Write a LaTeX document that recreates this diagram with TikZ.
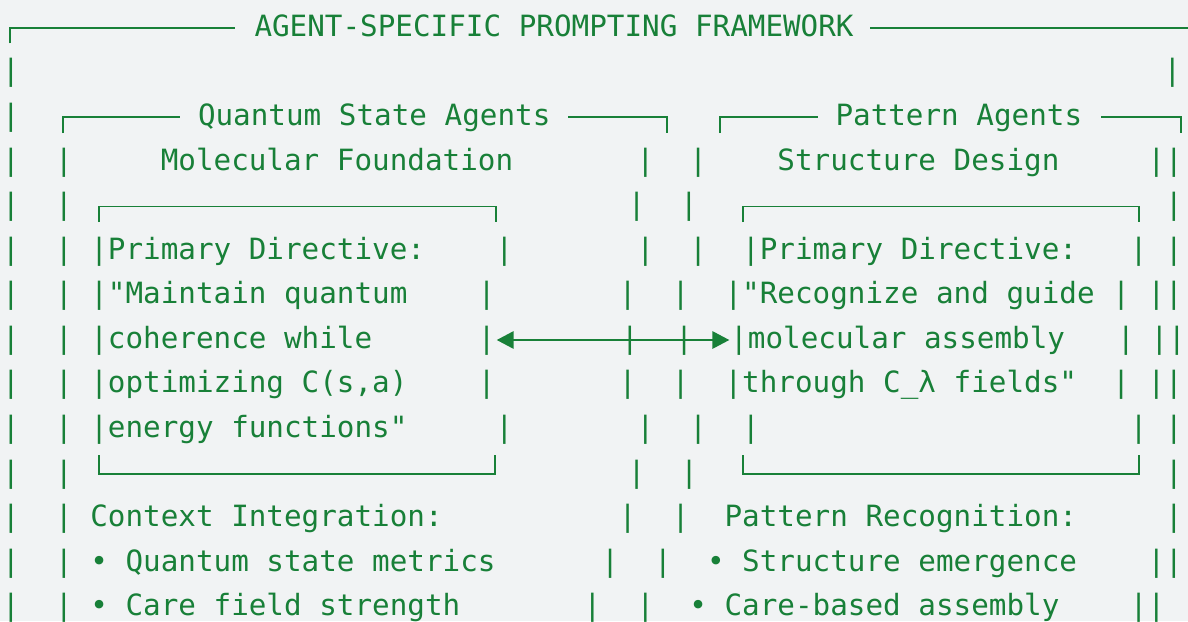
\documentclass[tikz,border=0pt]{standalone}
\usepackage{fontspec}
\newfontfamily\monofam{DejaVu Sans Mono}
\usetikzlibrary{arrows.meta}
\definecolor{codegreen}{HTML}{188038}
\definecolor{bgc}{HTML}{F1F3F4}
\frenchspacing
% bar at a character cell / at an absolute x (centre)
\newcommand\Bc[3]{\node[vbar] (#1) at ({11+17.62*#2},#3) {|};}
\newcommand\Ba[3]{\node[vbar] (#1) at (#2,#3) {|};}
% text starting at a character cell / at an absolute x (left edge)
\newcommand\Tc[4]{\node[txt] (#1) at ({2.19+17.62*#2},#3) {#4};}
\newcommand\Ta[4]{\node[txt] (#1) at (#2,#3) {#4};}
\begin{document}
\begin{tikzpicture}[x=1pt,y=-1pt,
  txt/.style={anchor=base west,inner sep=0pt,outer sep=0pt,
    font=\monofam\fontsize{29.27pt}{35pt}\selectfont,text=codegreen},
  vbar/.style={txt,anchor=base},
  boxl/.style={draw=codegreen,line width=1.8pt,line join=miter},
  >={Triangle[length=17pt,width=17.5pt]}]
\fill[bgc] (0,0) rectangle (1188,621);
\useasboundingbox (0,0) rectangle (1188,621);

% line 1
\draw[boxl] (10,43.3) -- (10,28) -- (235,28);
\Ta{title}{254.5}{36}{AGENT-SPECIFIC PROMPTING FRAMEWORK}
\draw[boxl] (870,28) -- (1188,28);

% line 2
\Bc{l2a}{0}{80.5}
\Ba{l2b}{1172.5}{80.5}

% line 3
\Bc{l3a}{0}{125}
\draw[boxl] (63.3,133) -- (63.3,117) -- (180,117);
\Ta{qtitle}{198}{125}{Quantum State Agents}
\draw[boxl] (568,117) -- (667,117) -- (667,133);
\draw[boxl] (720,133) -- (720,117) -- (818,117);
\Ta{ptitle}{835.5}{125}{Pattern Agents}
\draw[boxl] (1101,117) -- (1181,117) -- (1181,133);

% line 4
\Bc{l4a}{0}{170}
\Bc{l4b}{3}{170}
\Tc{l4c}{9}{170}{Molecular Foundation}
\Bc{l4d}{36}{170}
\Bc{l4e}{39}{170}
\Tc{l4f}{44}{170}{Structure Design}
\Bc{l4g}{65}{170}
\Bc{l4h}{66}{170}

% line 5
\Bc{l5a}{0}{214}
\Bc{l5b}{3}{214}
\draw[boxl] (99.3,222) -- (99.3,206.5) -- (496,206.5) -- (496,222);
\Ba{l5c}{636.7}{214}
\Ba{l5d}{689}{214}
\draw[boxl] (743.3,222) -- (743.3,206.5) -- (1139,206.5) -- (1139,222);
\Bc{l5e}{66}{214}

% line 6
\Bc{l6a}{0}{259}
\Bc{l6b}{3}{259}
\Tc{l6c}{5}{259}{|Primary Directive:}
\Bc{l6d}{28}{259}
\Bc{l6e}{36}{259}
\Bc{l6f}{39}{259}
\Tc{l6g}{42}{259}{|Primary Directive:}
\Bc{l6h}{64}{259}
\Bc{l6i}{66}{259}

% line 7
\Bc{l7a}{0}{303}
\Bc{l7b}{3}{303}
\Tc{l7c}{5}{303}{|"Maintain quantum}
\Bc{l7d}{27}{303}
\Bc{l7e}{35}{303}
\Bc{l7f}{38}{303}
\Tc{l7g}{41}{303}{|"Recognize and guide}
\Bc{l7h}{63}{303}
\Bc{l7i}{65}{303}
\Bc{l7j}{66}{303}

% line 8
\Bc{l8a}{0}{348}
\Bc{l8b}{3}{348}
\Tc{l8c}{5}{348}{|coherence while}
\Bc{l8d}{27}{348}
\Ba{l8e}{630}{348}
\Ba{l8f}{684.3}{348}
\Ba{l8g}{739}{348}
\Ta{l8h}{747.9}{348}{molecular assembly}
\Ba{l8i}{1126}{348}
\Ba{l8j}{1159.5}{348}
\Ba{l8k}{1177}{348}
\draw[boxl,<->] ([xshift=10pt,yshift=8pt]l8d.base) -- ([xshift=-9.7pt,yshift=8pt]l8g.base);

% line 9
\Bc{l9a}{0}{392}
\Bc{l9b}{3}{392}
\Tc{l9c}{5}{392}{|optimizing C(s,a)}
\Bc{l9d}{27}{392}
\Bc{l9e}{35}{392}
\Bc{l9f}{38}{392}
\Tc{l9g}{41}{392}{|through C\textunderscore λ fields"}
\Bc{l9h}{63}{392}
\Bc{l9i}{65}{392}
\Bc{l9j}{66}{392}

% line 10
\Bc{l10a}{0}{437}
\Bc{l10b}{3}{437}
\Tc{l10c}{5}{437}{|energy functions"}
\Bc{l10d}{28}{437}
\Bc{l10e}{36}{437}
\Bc{l10f}{39}{437}
\Bc{l10g}{42}{437}
\Bc{l10h}{64}{437}
\Bc{l10i}{66}{437}

% line 11
\Bc{l11a}{0}{482}
\Bc{l11b}{3}{482}
\draw[boxl] (99.3,455) -- (99.3,474) -- (495,474) -- (495,455);
\Ba{l11c}{636.7}{482}
\Ba{l11d}{689.3}{482}
\draw[boxl] (743.3,455) -- (743.3,474) -- (1139,474) -- (1139,455);
\Bc{l11e}{66}{482}

% line 12
\Bc{l12a}{0}{526}
\Bc{l12b}{3}{526}
\Tc{l12c}{5}{526}{Context Integration:}
\Bc{l12d}{35}{526}
\Bc{l12e}{38}{526}
\Tc{l12f}{41}{526}{Pattern Recognition:}
\Bc{l12g}{66}{526}

% line 13
\Bc{l13a}{0}{571}
\Bc{l13b}{3}{571}
\Tc{l13c}{5}{571}{• Quantum state metrics}
\Bc{l13d}{34}{571}
\Bc{l13e}{37}{571}
\Tc{l13f}{40}{571}{• Structure emergence}
\Bc{l13g}{65}{571}
\Bc{l13h}{66}{571}

% line 14
\Bc{l14a}{0}{615}
\Bc{l14b}{3}{615}
\Tc{l14c}{5}{615}{• Care field strength}
\Bc{l14d}{33}{615}
\Bc{l14e}{36}{615}
\Tc{l14f}{39}{615}{• Care-based assembly}
\Bc{l14g}{64}{615}
\Bc{l14h}{65}{615}
\end{tikzpicture}
\end{document}
